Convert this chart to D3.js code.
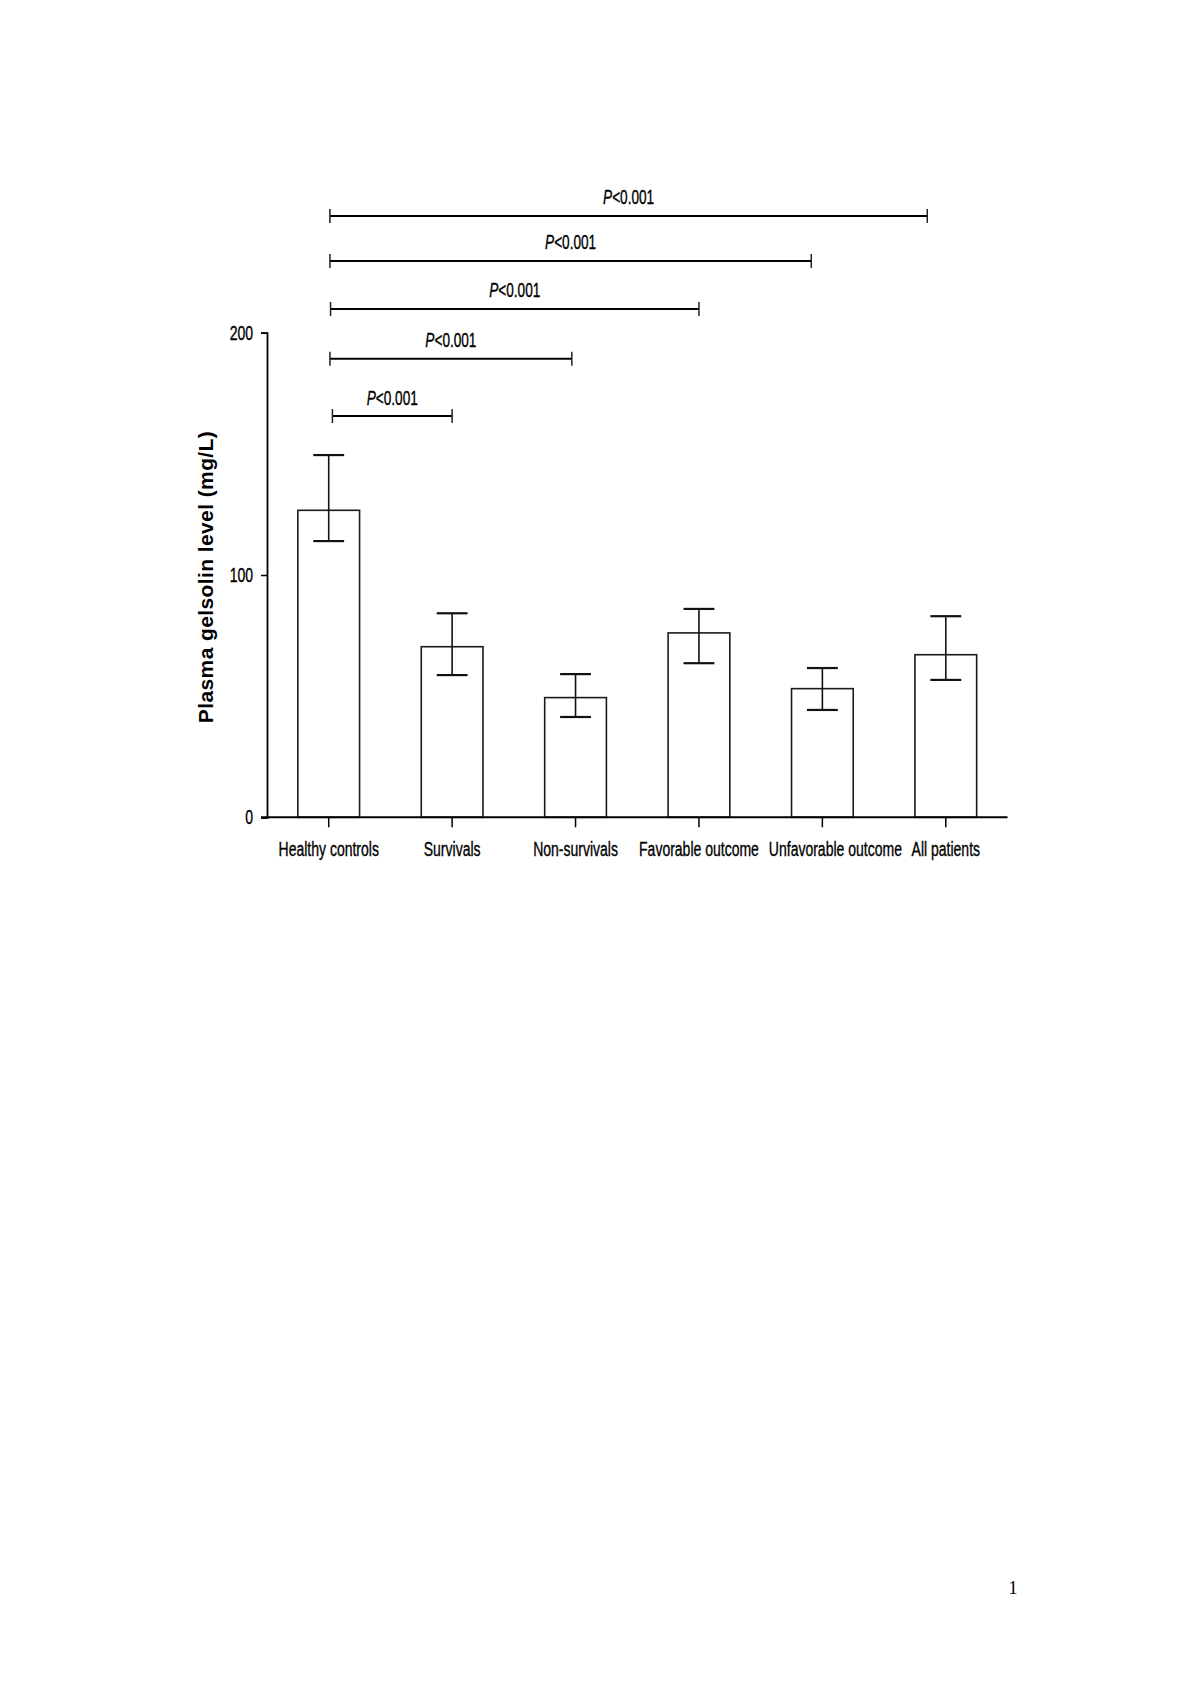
<!DOCTYPE html>
<html>
<head>
<meta charset="utf-8">
<script src="https://cdn.jsdelivr.net/npm/d3@7"></script>
<style>
  html, body { margin: 0; padding: 0; background: #fff; }
  svg { display: block; }
  .tick-label, .cat-label, .p-label { font-family: "Liberation Sans", Arial, sans-serif; font-size: 20px; fill: #000; stroke: #000; stroke-width: 0.35px; }
  .y-title { font-family: "Liberation Sans", Arial, sans-serif; font-size: 21px; font-weight: bold; letter-spacing: 0.4px; fill: #000; }
  .page-num { font-family: "Liberation Serif", "Times New Roman", serif; font-size: 18px; fill: #000; }
</style>
</head>
<body>
<svg id="chart" width="1200" height="1698"></svg>
<script>
  "use strict";

  // ---- data ----
  const categories = [
    "Healthy controls",
    "Survivals",
    "Non-survivals",
    "Favorable outcome",
    "Unfavorable outcome",
    "All patients"
  ];
  const means = [126.7, 70.4, 49.4, 76.1, 53.1, 67.1];
  const errHigh = [149.5, 84.2, 59.1, 86.0, 61.6, 83.0];
  const errLow = [114.0, 58.7, 41.4, 63.6, 44.3, 56.7];
  const yTicks = [0, 100, 200];

  // significance brackets: category index span (fractional) and level in mg/L
  const bracketFrom = [0.03, 0.01, 0.015, 0.01, 0.01];
  const bracketTo = [1.0, 1.97, 3.0, 3.91, 4.85];
  const bracketLevel = [165.6, 189.2, 209.8, 229.6, 248.2];
  const bracketText = ["<0.001", "<0.001", "<0.001", "<0.001", "<0.001"];

  // ---- layout ----
  const X0 = 267, X1 = 1007.5;
  const Y_BASE = 817.3, Y_TOP = 332.7;
  const SQUEEZE = 0.7; // the original font is strongly condensed
  const LABEL_NUDGE = { "Unfavorable outcome": 13 };

  const svg = d3.select("#chart");

  const x = d3.scaleBand()
    .domain(categories)
    .range([X0, X1])
    .paddingInner(0.5)
    .paddingOuter(0.25);

  const y = d3.scaleLinear().domain([0, 200]).range([Y_BASE, Y_TOP]);

  // index -> centre of that category (for bracket ends)
  const xi = d3.scaleLinear()
    .domain([0, categories.length - 1])
    .range([x(categories[0]) + x.bandwidth() / 2,
            x(categories[categories.length - 1]) + x.bandwidth() / 2]);

  function squeeze(sel, k) {
    sel.each(function () {
      const len = this.getComputedTextLength();
      d3.select(this)
        .attr("textLength", len * k)
        .attr("lengthAdjust", "spacingAndGlyphs");
    });
  }

  // Bars
  svg.append("g")
    .selectAll("rect")
    .data(categories)
    .join("rect")
    .attr("x", (d) => x(d))
    .attr("y", (d, i) => y(means[i]))
    .attr("width", x.bandwidth())
    .attr("height", (d, i) => y(0) - y(means[i]))
    .attr("fill", "#fff")
    .attr("stroke", "#1a1a1a")
    .attr("stroke-width", 1.6);

  // Error bars
  const eb = svg.append("g")
    .selectAll("g")
    .data(categories)
    .join("g")
    .attr("transform", (d) => `translate(${x(d) + x.bandwidth() / 2},0)`);
  const capW = x.bandwidth() / 4;
  eb.append("line")
    .attr("y1", (d, i) => y(errHigh[i]))
    .attr("y2", (d, i) => y(errLow[i]))
    .attr("stroke", "#111")
    .attr("stroke-width", 1.6);
  eb.append("line")
    .attr("x1", -capW).attr("x2", capW)
    .attr("y1", (d, i) => y(errHigh[i]))
    .attr("y2", (d, i) => y(errHigh[i]))
    .attr("stroke", "#111")
    .attr("stroke-width", 2.2);
  eb.append("line")
    .attr("x1", -capW).attr("x2", capW)
    .attr("y1", (d, i) => y(errLow[i]))
    .attr("y2", (d, i) => y(errLow[i]))
    .attr("stroke", "#111")
    .attr("stroke-width", 2.2);

  // Y axis
  const yAxis = svg.append("g")
    .attr("transform", `translate(${X0},0)`)
    .call(d3.axisLeft(y).tickValues(yTicks).tickSize(6).tickPadding(8).tickFormat(d3.format("d")));
  yAxis.select(".domain").attr("stroke", "#000").attr("stroke-width", 1.8);
  yAxis.selectAll(".tick line").attr("stroke", "#000").attr("stroke-width", 1.5);
  yAxis.selectAll(".tick text")
    .attr("class", "tick-label")
    .attr("font-family", null).attr("font-size", null)
    .call(squeeze, SQUEEZE);

  // X axis
  const xAxis = svg.append("g")
    .attr("transform", `translate(0,${Y_BASE})`)
    .call(d3.axisBottom(x).tickSize(10).tickPadding(14.5).tickSizeOuter(0));
  xAxis.select(".domain")
    .attr("d", `M${X0 - 6},0H${X1}`)
    .attr("stroke", "#000").attr("stroke-width", 2);
  xAxis.selectAll(".tick line").attr("stroke", "#000").attr("stroke-width", 1.5);
  xAxis.selectAll(".tick text")
    .attr("class", "cat-label")
    .attr("font-family", null).attr("font-size", null)
    .attr("dx", (d) => LABEL_NUDGE[d] || 0)
    .call(squeeze, SQUEEZE);

  // Y title
  svg.append("text")
    .attr("class", "y-title")
    .attr("transform", `translate(213,${(y(0) + y(200)) / 2 + 2}) rotate(-90)`)
    .attr("text-anchor", "middle")
    .text("Plasma gelsolin level (mg/L)");

  // Significance brackets
  const br = svg.append("g")
    .selectAll("g")
    .data(bracketLevel)
    .join("g");
  br.append("line")
    .attr("x1", (d, i) => xi(bracketFrom[i]))
    .attr("x2", (d, i) => xi(bracketTo[i]))
    .attr("y1", (d) => y(d)).attr("y2", (d) => y(d))
    .attr("stroke", "#000").attr("stroke-width", 2);
  [bracketFrom, bracketTo].forEach((ends) => {
    br.append("line")
      .attr("x1", (d, i) => xi(ends[i])).attr("x2", (d, i) => xi(ends[i]))
      .attr("y1", (d) => y(d) - 7).attr("y2", (d) => y(d) + 7)
      .attr("stroke", "#222").attr("stroke-width", 1.5);
  });
  const pl = br.append("text")
    .attr("class", "p-label")
    .attr("text-anchor", "middle")
    .attr("x", (d, i) => (xi(bracketFrom[i]) + xi(bracketTo[i])) / 2)
    .attr("y", (d) => y(d) - 11.5);
  pl.append("tspan").attr("font-style", "italic").text("P");
  pl.append("tspan").text((d, i) => bracketText[i]);
  pl.call(squeeze, 0.68);

  // Page number
  svg.append("text")
    .attr("class", "page-num")
    .attr("x", 1013).attr("y", 1594)
    .attr("text-anchor", "middle")
    .text("1");
</script>
</body>
</html>
